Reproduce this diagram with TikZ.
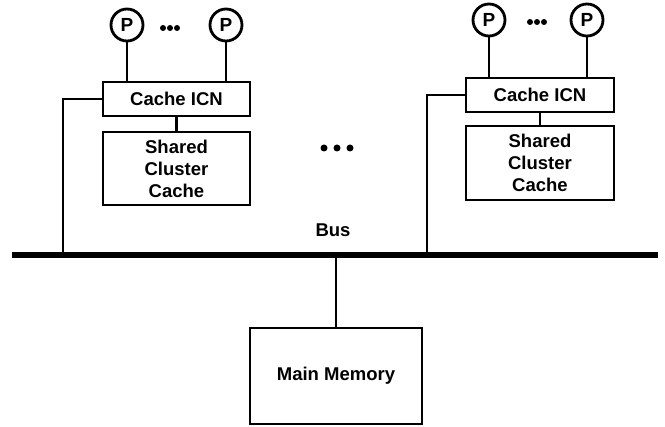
\documentclass[tikz,border=0pt]{standalone}
\usepackage{fontspec}
\setmainfont{Liberation Sans}
\begin{document}
\begin{tikzpicture}[x=1pt,y=-1pt,line width=2.8pt,
  proc/.style={draw,circle,minimum size=32pt,inner sep=0pt,font=\bfseries\fontsize{19}{19}\selectfont},
  box/.style={draw,rectangle,inner sep=0pt,align=center,font=\bfseries\fontsize{18.5}{22}\selectfont},
  lab/.style={font=\bfseries\fontsize{18.5}{22}\selectfont},
  dot/.style={fill,circle,inner sep=0pt}]
\useasboundingbox (0,0) rectangle (665,427);
% left cluster
\node[proc] (p1) at (127,25) {P};
\node[proc] (p2) at (226,25) {P};
\node[box,minimum width=147pt,minimum height=34pt] (icn1) at (176.5,99) {Cache ICN};
\node[box,minimum width=147pt,minimum height=73pt] (scc1) at (176.5,168.5) {Shared\\Cluster\\Cache};
\node[dot,minimum size=6pt] (d1a) at (163,28) {};
\node[dot,minimum size=6pt] (d1b) at (170,28) {};
\node[dot,minimum size=6pt] (d1c) at (177,28) {};
\draw (p1) -- (p1 |- icn1.north);
\draw (p2) -- (p2 |- icn1.north);
\draw (icn1.south) -- (scc1.north);
% right cluster
\node[proc] (p3) at (489,20) {P};
\node[proc] (p4) at (587,20) {P};
\node[box,minimum width=148pt,minimum height=34pt] (icn2) at (540,95) {Cache ICN};
\node[box,minimum width=148pt,minimum height=74pt] (scc2) at (540,163) {Shared\\Cluster\\Cache};
\node[dot,minimum size=6pt] (d2a) at (530,22) {};
\node[dot,minimum size=6pt] (d2b) at (537,22) {};
\node[dot,minimum size=6pt] (d2c) at (544,22) {};
\draw (p3) -- (p3 |- icn2.north);
\draw (p4) -- (p4 |- icn2.north);
\draw (icn2.south) -- (scc2.north);
% middle dots
\node[dot,minimum size=7pt] (m1) at (324,148) {};
\node[dot,minimum size=7pt] (m2) at (337,148) {};
\node[dot,minimum size=7pt] (m3) at (350,148) {};
% bus
\coordinate (busL) at (12,255);
\coordinate (busR) at (658,255);
\draw[line width=6pt] (busL) -- (busR);
\node[lab] (buslab) at (333,230) {Bus};
\coordinate (c1) at (63,255);
\coordinate (c2) at (427,255);
\draw (icn1.west) -| (c1);
\draw (icn2.west) -| (c2);
% memory
\node[box,minimum width=172pt,minimum height=96pt] (mem) at (336,376) {Main Memory};
\coordinate (mb) at (336,255);
\draw (mb) -- (mem.north);
\end{tikzpicture}
\end{document}
